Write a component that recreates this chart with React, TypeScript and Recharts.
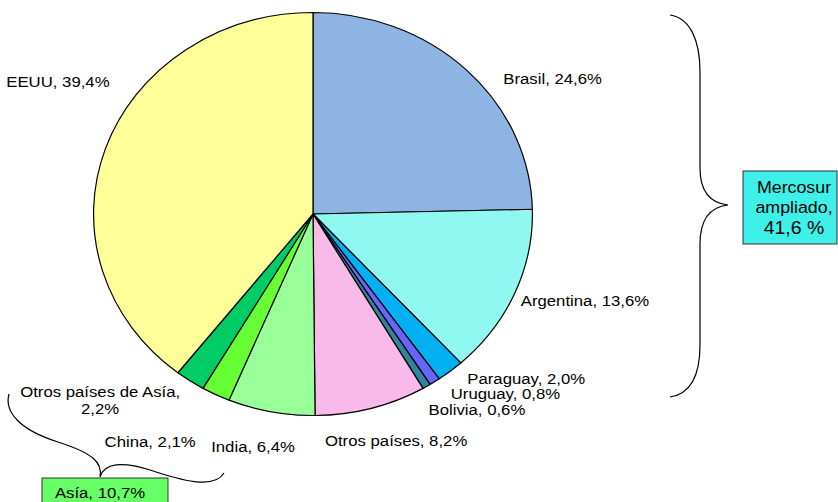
import React from 'react';
import { PieChart, Pie, Cell } from 'recharts';

const countries = ['Brasil', 'Argentina', 'Paraguay', 'Uruguay', 'Bolivia', 'Otros países', 'India', 'China', 'Otros países de Asía', 'EEUU'];
const shares = [24.6, 13.6, 2.0, 0.8, 0.6, 8.2, 6.4, 2.1, 2.2, 39.4];
const sliceColors = ['#8DB4E2', '#90F8F0', '#00B0F0', '#6666FF', '#31849B', '#F9B9EA', '#99FF99', '#66FF33', '#00CC66', '#FFFF99'];
const groupLabels = ['Mercosur', 'ampliado,', '41,6 %'];
const asiaLabel = 'Asía, 10,7%';

const data = countries.map((name, i) => ({ name, value: shares[i] }));

// style: horizontal stretch of the pie and text
const STRETCH = 1.089;
const TEXT_STRETCH = 1.08;
const FONT = 'Liberation Sans, Arial, sans-serif';
const RAD = Math.PI / 180;

// label nudges relative to the outer edge point at the slice's mid angle
const labelNudges: [number, number, 'start' | 'middle' | 'end'][] = [
  [37, 8, 'start'],
  [6, 7, 'start'],
  [17, 7, 'start'],
  [16, 12, 'start'],
  [2, 23, 'start'],
  [-46, 32, 'start'],
  [-60, 34, 'start'],
  [-20, 47, 'end'],
  [-90, 19, 'middle'],
  [4, -67, 'end'],
];

const fmt = (v: number) => v.toFixed(1).replace('.', ',') + '%';

const EllipseSector = (props: any) => {
  const { cx, cy, outerRadius, startAngle, endAngle, fill } = props;
  const rx = outerRadius * STRETCH;
  const ry = outerRadius;
  const p = (a: number) => [cx + rx * Math.cos(a * RAD), cy - ry * Math.sin(a * RAD)];
  const [x1, y1] = p(startAngle);
  const [x2, y2] = p(endAngle);
  const large = Math.abs(endAngle - startAngle) > 180 ? 1 : 0;
  const sweep = endAngle < startAngle ? 1 : 0;
  const d = `M${cx},${cy} L${x1},${y1} A${rx},${ry} 0 ${large} ${sweep} ${x2},${y2} Z`;
  return <path d={d} fill={fill} stroke="#000" strokeWidth={1.2} strokeLinejoin="round" />;
};

const renderLabel = (props: any) => {
  const { cx, cy, midAngle, outerRadius, index } = props;
  const x0 = cx + outerRadius * STRETCH * Math.cos(midAngle * RAD);
  const y0 = cy - outerRadius * Math.sin(midAngle * RAD);
  const [dx, dy, anchor] = labelNudges[index];
  const x = x0 + dx;
  const y = y0 + dy;
  const name = countries[index];
  const val = fmt(shares[index]);
  if (name === 'Otros países de Asía') {
    return (
      <text transform={`translate(${x},${y}) scale(${TEXT_STRETCH},1)`} textAnchor={anchor} fontSize={15.5} fontFamily={FONT} fill="#000">
        <tspan x={0} dy={-3}>{name + ','}</tspan>
        <tspan x={0} dy={17}>{val}</tspan>
      </text>
    );
  }
  return (
    <text transform={`translate(${x},${y}) scale(${TEXT_STRETCH},1)`} textAnchor={anchor} dominantBaseline="central" fontSize={15.5} fontFamily={FONT} fill="#000">
      {`${name}, ${val}`}
    </text>
  );
};

export default function App() {
  return (
    <div style={{ position: 'absolute', left: 0, top: 0, width: 838, height: 502, background: '#fff' }}>
      <PieChart width={838} height={502} margin={{ top: 0, right: 0, bottom: 0, left: 0 }}>
        <Pie
          data={data}
          dataKey="value"
          nameKey="name"
          cx={313}
          cy={214}
          outerRadius={201.5}
          startAngle={90}
          endAngle={-270}
          stroke="#000"
          strokeWidth={1.2}
          shape={EllipseSector}
          label={renderLabel}
          labelLine={false}
          isAnimationActive={false}
        >
          {data.map((d, i) => (
            <Cell key={d.name} fill={sliceColors[i]} />
          ))}
        </Pie>
      </PieChart>
      <svg width={838} height={502} style={{ position: 'absolute', left: 0, top: 0, pointerEvents: 'none' }}>
        <path
          d="M670,15 C690,18 700,40 700,72 L700,168 C700,192 710,203 728,205 C710,207 700,220 700,244 L700,345 C700,376 690,394 670,397"
          fill="none"
          stroke="#000"
          strokeWidth={1.2}
        />
        <rect x={743} y={171} width={94} height={73} fill="#3EF0E8" stroke="#333" strokeWidth={1} />
        <g fontFamily={FONT} fill="#000" textAnchor="middle">
          <text transform={`translate(794,187) scale(${TEXT_STRETCH},1)`} fontSize={16.5} dominantBaseline="central">{groupLabels[0]}</text>
          <text transform={`translate(794,207) scale(${TEXT_STRETCH},1)`} fontSize={16.5} dominantBaseline="central">{groupLabels[1]}</text>
          <text transform={`translate(794,228) scale(${TEXT_STRETCH},1)`} fontSize={18} dominantBaseline="central">{groupLabels[2]}</text>
        </g>
        <path
          d="M9,394 C4,412 20,430 58,442 C92,453 103,462 100,477 C104,463 122,461 150,470 C180,480 214,490 224,473"
          fill="none"
          stroke="#000"
          strokeWidth={1.2}
        />
        <rect x={42} y={478} width={126} height={30} fill="#66FF66" stroke="#333" strokeWidth={1} />
        <text transform={`translate(100,492) scale(${TEXT_STRETCH},1)`} fontFamily={FONT} fontSize={15.5} textAnchor="middle" dominantBaseline="central" fill="#000">
          {asiaLabel}
        </text>
      </svg>
    </div>
  );
}
